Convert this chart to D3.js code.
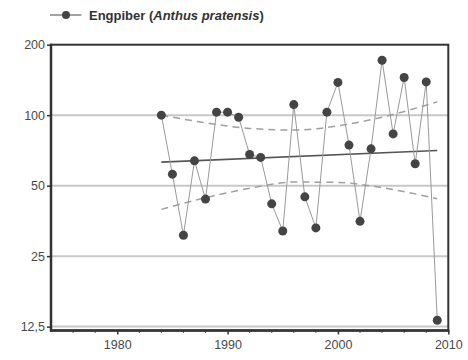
<!DOCTYPE html>
<html><head><meta charset="utf-8">
<script src="https://cdn.jsdelivr.net/npm/d3@7"></script>
<style>body{margin:0;background:#fff}svg{display:block}text{font-family:"Liberation Sans",Arial,sans-serif}</style>
</head><body><svg id="c" width="468" height="360"></svg>
<script>
const years = [1984,1985,1986,1987,1988,1989,1990,1991,1992,1993,1994,1995,1996,1997,1998,1999,2000,2001,2002,2003,2004,2005,2006,2007,2008,2009];
const values = [100,56,30.7,63.8,43.8,103,103,98,67.9,66,41.8,32,111,44.8,33,103,138,74.5,35.2,71.8,171.7,83.2,144.9,62,138.7,13.3];
const trendYears = [1984,2009];
const trendValues = [63,70.7];
const ciYears = [1984,1988,1992,1996,2000,2004,2009];
const ciUpper = [100,92.8,87.8,86.4,90,98,114];
const ciLower = [39.6,44.4,48.7,51.8,51.6,49,44];
const yTicks = [12.5,25,50,100,200];
const yTickLabels = ["12,5","25","50","100","200"];
const xTicks = [1980,1990,2000,2010];
const xMinor = [1976,1978,1982,1984,1986,1988,1992,1994,1996,1998,2002,2004,2006,2008];
const legendLabel = ["Engpiber (","Anthus pratensis",")"];

const svg = d3.select("#c");
const L=51,R=448.3,T=44.7,B=330.5;
const x = d3.scaleLinear().domain([1974,2010]).range([L,R]);
const y = d3.scaleLog().base(2).domain([12.03,200]).range([B,T]);

// gridlines
svg.append("g").selectAll("line").data(yTicks.slice(0,4)).join("line")
  .attr("x1",L).attr("x2",R).attr("y1",d=>y(d)).attr("y2",d=>y(d))
  .attr("stroke","#c8c8c8").attr("stroke-width",2);

// y axis
const yAxis = d3.axisLeft(y).tickValues(yTicks).tickFormat((d,i)=>yTickLabels[i]).tickSize(4).tickPadding(2);
const gy = svg.append("g").attr("transform",`translate(${L},0)`).call(yAxis);
gy.select(".domain").remove();
gy.selectAll(".tick line").attr("stroke","#333").attr("stroke-width",1.5);
gy.selectAll("text").attr("font-size",12.5).attr("fill","#4a4a4a");

// x axis
const xAxis = d3.axisBottom(x).tickValues(xTicks).tickFormat(d3.format("d")).tickSize(4).tickPadding(6);
const gx = svg.append("g").attr("transform",`translate(0,${B})`).call(xAxis);
gx.select(".domain").remove();
gx.selectAll(".tick line").attr("stroke","#333").attr("stroke-width",1.5);
gx.selectAll("text").attr("font-size",12.5).attr("fill","#4a4a4a");
svg.append("g").selectAll("line").data(xMinor).join("line")
  .attr("x1",d=>x(d)).attr("x2",d=>x(d)).attr("y1",B).attr("y2",B+2.5)
  .attr("stroke","#555").attr("stroke-width",1);

// frame
svg.append("rect").attr("x",L).attr("y",T).attr("width",R-L).attr("height",B-T)
  .attr("fill","none").attr("stroke","#333").attr("stroke-width",2);
svg.append("line").attr("x1",L).attr("x2",L).attr("y1",T-1).attr("y2",B+1).attr("stroke","#333").attr("stroke-width",2.5);
svg.append("line").attr("x1",L-1).attr("x2",R+1).attr("y1",B).attr("y2",B).attr("stroke","#333").attr("stroke-width",2.5);

// CI dashed
const ciLine = d3.line().x(d=>x(d[0])).y(d=>y(d[1])).curve(d3.curveMonotoneX);
[ciUpper,ciLower].forEach(arr=>{
  svg.append("path").attr("d",ciLine(ciYears.map((yr,i)=>[yr,arr[i]])))
    .attr("fill","none").attr("stroke","#a0a0a0").attr("stroke-width",1.5).attr("stroke-dasharray","7,5");
});

// trend
svg.append("path").attr("d",d3.line().x(d=>x(d[0])).y(d=>y(d[1]))(trendYears.map((yr,i)=>[yr,trendValues[i]])))
  .attr("fill","none").attr("stroke","#555").attr("stroke-width",1.6);

// data line
const data = years.map((yr,i)=>[yr,values[i]]);
svg.append("path").attr("d",d3.line().x(d=>x(d[0])).y(d=>y(d[1]))(data))
  .attr("fill","none").attr("stroke","#9a9a9a").attr("stroke-width",1);
svg.append("g").selectAll("circle").data(data).join("circle")
  .attr("cx",d=>x(d[0])).attr("cy",d=>y(d[1])).attr("r",4.5).attr("fill","#444");

// legend
const lg = svg.append("g");
lg.append("line").attr("x1",50).attr("x2",81.5).attr("y1",15).attr("y2",15).attr("stroke","#666").attr("stroke-width",1.2);
lg.append("circle").attr("cx",66).attr("cy",15).attr("r",4).attr("fill","#444");
const t = lg.append("text").attr("x",89).attr("y",19.5).attr("font-size",13).attr("font-weight","bold").attr("fill","#333");
t.append("tspan").text(legendLabel[0]);
t.append("tspan").attr("font-style","italic").text(legendLabel[1]);
t.append("tspan").text(legendLabel[2]);
</script></body></html>
